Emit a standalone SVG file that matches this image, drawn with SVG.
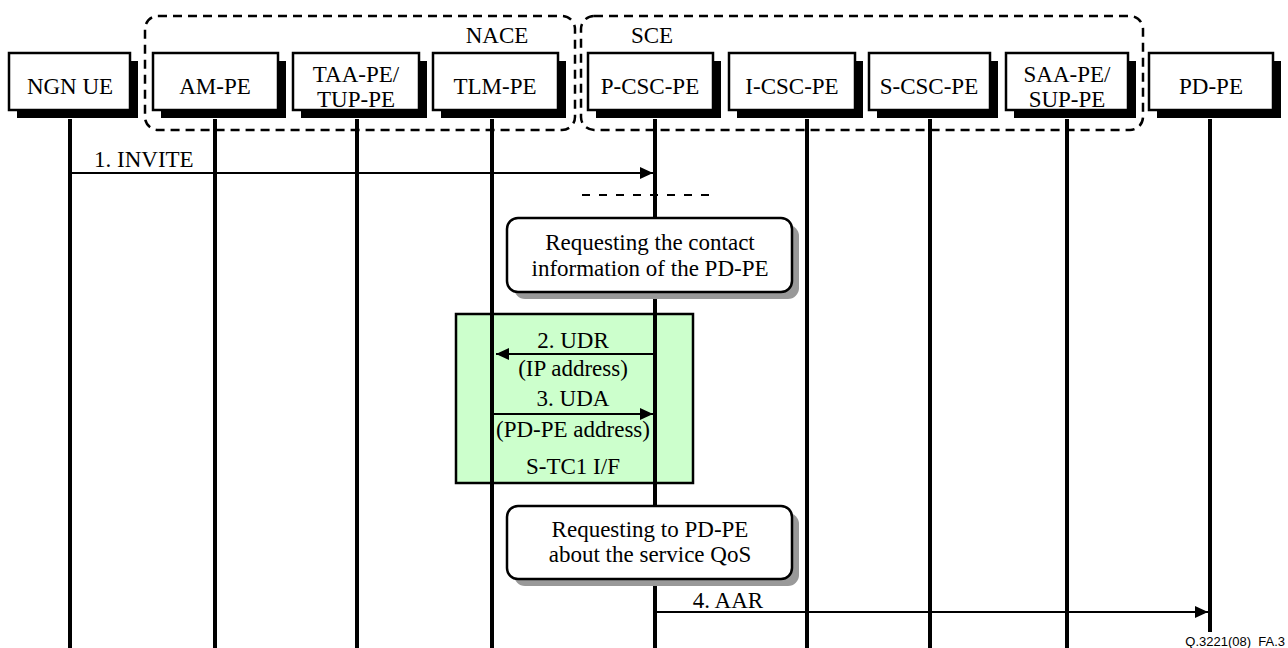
<svg xmlns="http://www.w3.org/2000/svg" width="1288" height="648" viewBox="0 0 1288 648">
<defs>
<style>
.t{font-family:"Liberation Serif","Times New Roman",serif;font-size:23px;fill:#000;text-anchor:middle}
.box{fill:#fff;stroke:#000;stroke-width:2.5}
.sh{fill:#000}
.grp{fill:none;stroke:#000;stroke-width:2.5;stroke-dasharray:9 6}
.life{stroke:#000;stroke-width:4}
.msg{stroke:#000;stroke-width:2;fill:none}
.note{fill:#fff;stroke:#000;stroke-width:2.5}
.nsh{fill:#999}
</style>
<marker id="ah" viewBox="0 0 13 12" refX="13" refY="6" markerWidth="13" markerHeight="12" markerUnits="userSpaceOnUse" orient="auto">
<path d="M0,0 L13,6 L0,12 Z" fill="#000"/>
</marker>
</defs>
<rect width="1288" height="648" fill="#fff"/>

<g id="groups">
<rect class="grp" x="145" y="16" width="430" height="114" rx="13"/>
<text class="t" x="497" y="43">NACE</text>
<rect class="grp" x="581" y="16" width="562" height="114" rx="13"/>
<text class="t" x="652" y="43">SCE</text>
</g>

<g id="stc1">
<rect x="456" y="314" width="237" height="169" fill="#ccffcc" stroke="#000" stroke-width="2.5"/>
<text class="t" x="573" y="474">S-TC1 I/F</text>
</g>

<g id="lifelines">
<line class="life" x1="70" y1="119" x2="70" y2="648"/>
<line class="life" x1="215" y1="119" x2="215" y2="648"/>
<line class="life" x1="357" y1="119" x2="357" y2="648"/>
<line class="life" x1="492" y1="119" x2="492" y2="648"/>
<line class="life" x1="655" y1="119" x2="655" y2="648"/>
<line class="life" x1="807" y1="119" x2="807" y2="648"/>
<line class="life" x1="930" y1="119" x2="930" y2="648"/>
<line class="life" x1="1067" y1="119" x2="1067" y2="648"/>
<line class="life" x1="1210" y1="119" x2="1210" y2="632"/>
</g>

<g id="n-ngnue"><rect class="sh" x="17" y="61" width="121" height="57"/><rect class="box" x="9" y="53" width="121" height="57"/><text class="t" x="70" y="94">NGN UE</text></g>
<g id="n-ampe"><rect class="sh" x="161" y="61" width="125" height="57"/><rect class="box" x="153" y="53" width="125" height="57"/><text class="t" x="215" y="94">AM-PE</text></g>
<g id="n-taape"><rect class="sh" x="301" y="61" width="126" height="57"/><rect class="box" x="293" y="53" width="126" height="57"/><text class="t" x="356" y="82">TAA-PE/</text><text class="t" x="356" y="107">TUP-PE</text></g>
<g id="n-tlmpe"><rect class="sh" x="441" y="61" width="125" height="57"/><rect class="box" x="433" y="53" width="125" height="57"/><text class="t" x="495" y="94">TLM-PE</text></g>
<g id="n-pcscpe"><rect class="sh" x="596" y="61" width="125" height="57"/><rect class="box" x="588" y="53" width="125" height="57"/><text class="t" x="650" y="94">P-CSC-PE</text></g>
<g id="n-icscpe"><rect class="sh" x="737" y="61" width="126" height="57"/><rect class="box" x="729" y="53" width="126" height="57"/><text class="t" x="792" y="94">I-CSC-PE</text></g>
<g id="n-scscpe"><rect class="sh" x="877" y="61" width="121" height="57"/><rect class="box" x="869" y="53" width="121" height="57"/><text class="t" x="929" y="94">S-CSC-PE</text></g>
<g id="n-saape"><rect class="sh" x="1014" y="61" width="122" height="57"/><rect class="box" x="1006" y="53" width="122" height="57"/><text class="t" x="1067" y="82">SAA-PE/</text><text class="t" x="1067" y="107">SUP-PE</text></g>
<g id="n-pdpe"><rect class="sh" x="1157" y="61" width="124" height="57"/><rect class="box" x="1149" y="53" width="124" height="57"/><text class="t" x="1211" y="94">PD-PE</text></g>

<g id="note1"><rect class="nsh" x="514" y="225" width="285" height="74" rx="11"/><rect class="note" x="507" y="218" width="285" height="74" rx="11"/><text class="t" x="650" y="250">Requesting the contact</text><text class="t" x="650" y="276">information of the PD-PE</text></g>
<g id="note2"><rect class="nsh" x="514" y="513" width="285" height="73" rx="11"/><rect class="note" x="507" y="506" width="285" height="73" rx="11"/><text class="t" x="650" y="537">Requesting to PD-PE</text><text class="t" x="650" y="562">about the service QoS</text></g>

<g id="connectors">
<line class="msg" x1="70" y1="173" x2="653" y2="173" marker-end="url(#ah)"/>
<text class="t" x="94" y="167" style="text-anchor:start">1. INVITE</text>
<line class="msg" x1="582" y1="195" x2="716" y2="195" stroke-dasharray="8 9"/>
<line class="msg" x1="655" y1="354" x2="496" y2="354" marker-end="url(#ah)"/>
<text class="t" x="573" y="348">2. UDR</text>
<text class="t" x="573" y="376">(IP address)</text>
<line class="msg" x1="492" y1="414" x2="653" y2="414" marker-end="url(#ah)"/>
<text class="t" x="573" y="406">3. UDA</text>
<text class="t" x="573" y="437">(PD-PE address)</text>
<line class="msg" x1="655" y1="612" x2="1208" y2="612" marker-end="url(#ah)"/>
<text class="t" x="728" y="608">4. AAR</text>
</g>

<text x="1285" y="646" style="font-family:'Liberation Sans',Arial,sans-serif;font-size:13px;text-anchor:end">Q.3221(08)_FA.3</text>
</svg>
